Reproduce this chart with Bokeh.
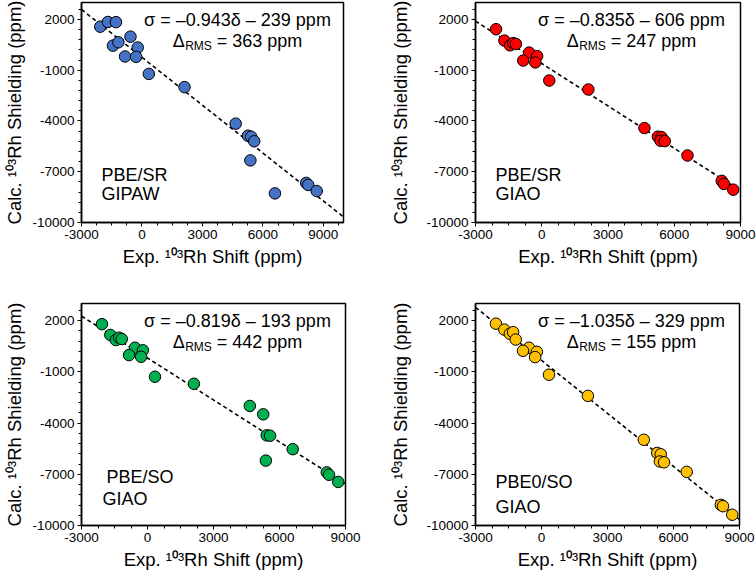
import numpy as np
from bokeh.plotting import figure
from bokeh.layouts import column, row
from bokeh.models import FixedTicker, Label, Range1d
from bokeh.embed import file_html
from bokeh.resources import INLINE

# ---------------- data ----------------
exp_shift = [-2070, -1690, -1440, -1290, -1170, -570, -840, -210, -290, 340,
             2110, 4650, 5260, 5420, 5380, 5570, 6600, 8150, 8250, 8670]

calc_pbe_sr_gipaw = [1570, 1850, 450, 1840, 650, 980, -190, 340, -210, -1220,
                     -2000, -4160, -4870, -4930, -6330, -5200, -8280, -7660, -7780, -8140]
calc_pbe_sr_giao = [1420, 750, 470, 600, 550, 40, -430, -170, -540, -1610,
                    -2140, -4420, -4930, -4950, -5170, -5190, -6040, -7540, -7720, -8060]
calc_pbe_so_giao = [1790, 1160, 860, 1000, 920, 410, -20, 260, -120, -1290,
                    -1700, -3000, -3490, -4720, -6200, -4740, -5530, -6890, -7030, -7450]
calc_pbe0_so_giao = [1820, 1470, 1230, 1320, 890, 410, 230, 170, -140, -1170,
                     -2410, -4980, -5750, -5830, -6250, -6300, -6860, -8790, -8870, -9370]

fit_slopes = [-0.943, -0.835, -0.819, -1.035]
fit_intercepts = [-239, -606, -193, -329]
rms_values = [363, 247, 442, 155]
slope_labels = ["\u20130.943", "\u20130.835", "\u20130.819", "\u20131.035"]
method_line1 = ["PBE/SR", "PBE/SR", "PBE/SO", "PBE0/SO"]
method_line2 = ["GIPAW", "GIAO", "GIAO", "GIAO"]
colors = ["#4472C4", "#FF0000", "#00B050", "#FFC000"]
x_limits = [(-3000, 10000), (-3000, 9000), (-3000, 9000), (-3000, 9000)]
y_limits = (-10000, 3000)
x_ticks = [-3000, 0, 3000, 6000, 9000]
y_ticks = [-10000, -7000, -4000, -1000, 2000]
x_tick_labels = {-3000: "-3000", 0: "0", 3000: "3000", 6000: "6000", 9000: "9000"}
y_tick_labels = {-10000: "-10000", -7000: "-7000", -4000: "-4000", -1000: "-1000", 2000: "2000"}

FONT = "Liberation Sans"


def make_panel(i, calc, w, h, bl, br, bt, bb, ylab_standoff, method_pos):
    x0, x1 = x_limits[i]
    y0, y1 = y_limits
    fw = w - bl - br
    fh = h - bt - bb
    p = figure(width=w, height=h,
               min_border_left=bl, min_border_right=br,
               min_border_top=bt, min_border_bottom=bb,
               x_range=Range1d(x0, x1), y_range=Range1d(y0, y1),
               output_backend="svg", toolbar_location=None)
    p.grid.visible = False
    p.outline_line_color = "black"
    p.outline_line_width = 1.5
    p.background_fill_color = "white"
    p.border_fill_color = "white"

    minor_x = [float(v) for v in np.arange(x0, x1 + 1, 750)]
    minor_y = [float(v) for v in np.arange(y0, y1 + 1, 600)]
    p.xaxis.ticker = FixedTicker(ticks=x_ticks, minor_ticks=minor_x)
    p.yaxis.ticker = FixedTicker(ticks=y_ticks, minor_ticks=minor_y)
    p.xaxis.major_label_overrides = x_tick_labels
    p.yaxis.major_label_overrides = y_tick_labels
    for ax in (p.xaxis, p.yaxis):
        ax.axis_line_color = "black"
        ax.axis_line_width = 1.5
        ax.major_tick_line_color = "black"
        ax.minor_tick_line_color = "black"
        ax.major_tick_in = 0
        ax.major_tick_out = 4
        ax.minor_tick_in = 0
        ax.minor_tick_out = 3
        ax.major_label_text_font = FONT
        ax.major_label_text_font_size = "13.5px"
        ax.major_label_text_color = "black"
        ax.axis_label_text_font = FONT
        ax.axis_label_text_font_size = "18.5px"
        ax.axis_label_text_font_style = "normal"
        ax.axis_label_text_color = "black"
        ax.major_label_standoff = 3
        ax.axis_label_standoff = 4
    p.yaxis.axis_label_standoff = ylab_standoff
    p.xaxis.axis_label = "Exp. \u00b9\u2070\u00b3Rh Shift (ppm)"
    p.yaxis.axis_label = "Calc. \u00b9\u2070\u00b3Rh Shielding (ppm)"

    # fit line from the stated regression equation
    m, b = fit_slopes[i], fit_intercepts[i]
    p.line(x=[x0, x1], y=[m * x0 + b, m * x1 + b], line_color="black",
           line_width=1.6, line_dash="4 3")

    p.scatter(x=exp_shift, y=calc, size=11.5, fill_color=colors[i],
              line_color="black", line_width=1)

    ux = (x1 - x0) / fw
    uy = (y1 - y0) / fh
    cx = x0 + 156 * ux
    # equation
    p.add_layout(Label(x=cx, y=y1 - 17 * uy,
                       text=f"\u03c3 = {slope_labels[i]}\u03b4 \u2013 {abs(b)} ppm",
                       text_font=FONT, text_font_size="18px", text_align="center",
                       text_baseline="middle", text_color="black"))
    # Delta RMS line
    yl = y1 - 38 * uy
    start = -64.8
    p.add_layout(Label(x=cx, y=yl, x_offset=start, text="\u0394",
                       text_font=FONT, text_font_size="18px", text_align="left",
                       text_baseline="middle", text_color="black"))
    p.add_layout(Label(x=cx, y=yl - 5.5 * uy, x_offset=start + 12.5, text="RMS",
                       text_font=FONT, text_font_size="12px", text_align="left",
                       text_baseline="middle", text_color="black"))
    p.add_layout(Label(x=cx, y=yl, x_offset=start + 44.0,
                       text=f"= {rms_values[i]} ppm",
                       text_font=FONT, text_font_size="18px", text_align="left",
                       text_baseline="middle", text_color="black"))
    # method labels
    (dx1, py1), (dx2, py2) = method_pos
    p.add_layout(Label(x=x0 + dx1 * ux, y=y1 - py1 * uy, text=method_line1[i],
                       text_font=FONT, text_font_size="18px", text_align="left",
                       text_baseline="middle", text_color="black"))
    p.add_layout(Label(x=x0 + dx2 * ux, y=y1 - py2 * uy, text=method_line2[i],
                       text_font=FONT, text_font_size="18px", text_align="left",
                       text_baseline="middle", text_color="black"))
    return p


p1 = make_panel(0, calc_pbe_sr_gipaw, 378, 288, 81, 35, 2, 66, 4, ((20, 172), (20, 191)))
p2 = make_panel(1, calc_pbe_sr_giao, 378, 288, 97, 16, 2, 66, 12, ((20, 172), (20, 191)))
p3 = make_panel(2, calc_pbe_so_giao, 378, 288, 81, 33, 15, 51, 4, ((25, 173), (21, 195)))
p4 = make_panel(3, calc_pbe0_so_giao, 378, 288, 97, 17, 15, 51, 12, ((20, 178), (20, 203)))

layout = column(row(p1, p2, spacing=0), row(p3, p4, spacing=0), spacing=0)

open("out.html", "w").write(file_html(layout, INLINE))
